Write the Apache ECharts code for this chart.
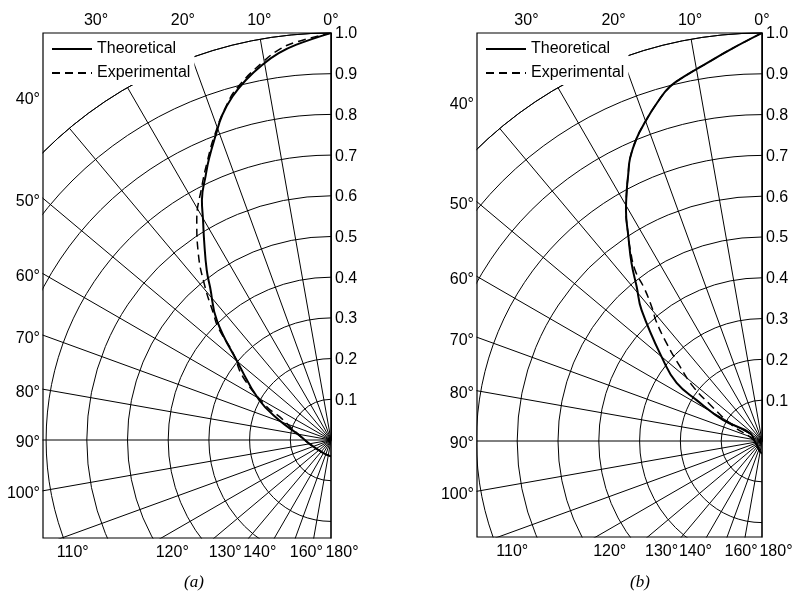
<!DOCTYPE html>
<html>
<head>
<meta charset="utf-8">
<script src="https://cdn.jsdelivr.net/npm/echarts@6/dist/echarts.min.js"></script>
<style>
  html, body { margin: 0; padding: 0; background: #fff; }
  #main { width: 800px; height: 592px; }
</style>
</head>
<body>
<div id="main"></div>
<script>
// angle in degrees from the 0° axis, radius relative to 1.0
var angleTheoA = [0, 5, 7.7, 10.4, 13.3, 16, 18.5, 20.7, 23.4, 25.3, 28.3, 30.2, 32.4, 36.2, 38.4, 43.6, 50.4, 60.9, 69, 81, 101, 148, 180];
var radTheoA = [1.0, 0.975, 0.959, 0.937, 0.909, 0.878, 0.842, 0.801, 0.754, 0.720, 0.669, 0.625, 0.582, 0.517, 0.478, 0.407, 0.296, 0.202, 0.137, 0.080, 0.053, 0.037, 0.04];

var angleExpA = [0, 4.9, 7.4, 10.2, 14.7, 17.3, 21, 24, 27, 31.4, 35.4, 39.4, 42.8, 45, 48.4, 54.4, 62.7, 65.7, 81, 101, 148, 180];
var radExpA = [1.0, 0.982, 0.969, 0.944, 0.898, 0.862, 0.800, 0.748, 0.699, 0.633, 0.563, 0.488, 0.426, 0.393, 0.322, 0.266, 0.177, 0.138, 0.08, 0.053, 0.037, 0.04];

var angleTheoB = [0, 4.7, 8.3, 11.6, 14.6, 17.3, 20.1, 22.5, 25, 26.7, 28.3, 30.5, 33.2, 36.3, 39.1, 42.6, 50.7, 55.8, 58, 61.7, 56.3, 90, 170, 180];
var radTheoB = [1.0, 0.962, 0.936, 0.916, 0.897, 0.867, 0.833, 0.803, 0.765, 0.730, 0.699, 0.657, 0.598, 0.540, 0.487, 0.436, 0.313, 0.253, 0.189, 0.109, 0.035, 0.018, 0.027, 0.03];

var angleExpB = [0, 4.7, 8.3, 11.6, 14.6, 17.3, 20.1, 22.5, 25, 26.7, 28.3, 30.5, 33.2, 34.2, 36.6, 37.7, 39.8, 41.3, 44.3, 47.8, 51.7, 55, 62, 90, 170, 180];
var radExpB = [1.0, 0.962, 0.936, 0.916, 0.897, 0.867, 0.833, 0.803, 0.765, 0.730, 0.699, 0.657, 0.598, 0.577, 0.522, 0.47, 0.418, 0.395, 0.335, 0.271, 0.215, 0.155, 0.085, 0.018, 0.027, 0.03];

var radiusTicks = [1.0, 0.9, 0.8, 0.7, 0.6, 0.5, 0.4, 0.3, 0.2, 0.1];
var topAngles = [0, 10, 20, 30];
var sideAngles = [40, 50, 60, 70, 80, 90, 100];
var bottomAngles = [110, 120, 130, 140, 160, 180];
var seriesNames = ["Theoretical", "Experimental"];
var captions = ["(a)", "(b)"];

// panel layout: polar centre/radius and the frame that clips the grid
var panels = [
  { center: [331, 440], radius: 407, left: 43, bottom: 538, nudge: 11, caption: [194, 583] },
  { center: [762, 441], radius: 408, left: 477, bottom: 537, nudge: 14, caption: [640, 583] },
];

var ink = "#000";
var font = '"Liberation Sans", Arial, sans-serif';

function pairs(rads, angles) {
  return rads.map(function (r, i) {
    return [r, angles[i]];
  });
}

var chartDom = document.getElementById("main");
var myChart = echarts.init(chartDom);
var option;

option = {
  backgroundColor: "#fff",
  animation: false,
  polar: panels.map(function (p) {
    return { center: p.center, radius: p.radius };
  }),
  angleAxis: panels.map(function (p, i) {
    return {
      polarIndex: i,
      type: "value",
      min: 0,
      max: 180,
      interval: 10,
      startAngle: 90,
      endAngle: 270,
      clockwise: false,
      axisLine: { show: true, lineStyle: { color: ink, width: 1 } },
      axisTick: { show: false },
      axisLabel: { show: false },
      splitLine: { show: true, lineStyle: { color: ink, width: 1 } },
    };
  }),
  radiusAxis: panels.map(function (p, i) {
    return {
      polarIndex: i,
      type: "value",
      min: 0,
      max: 1,
      interval: 0.1,
      axisLine: { show: true, lineStyle: { color: ink, width: 1 } },
      axisTick: { show: false },
      axisLabel: { show: false },
      splitLine: { show: true, lineStyle: { color: ink, width: 1 } },
    };
  }),
  legend: panels.map(function (p) {
    return {
      left: p.left,
      top: 33,
      orient: "vertical",
      padding: [8, 4, 4, 8],
      itemWidth: 40,
      itemHeight: 14,
      itemGap: 8,
      backgroundColor: "#fff",
      selectedMode: false,
      itemStyle: { opacity: 0 },
      data: seriesNames,
      textStyle: { fontSize: 16, color: ink, fontFamily: font },
    };
  }),
  series: [
    [radTheoA, angleTheoA, 0, "solid"],
    [radExpA, angleExpA, 0, "dashed"],
    [radTheoB, angleTheoB, 1, "solid"],
    [radExpB, angleExpB, 1, "dashed"],
  ].map(function (s) {
    var dashed = s[3] === "dashed";
    return {
      name: dashed ? seriesNames[1] : seriesNames[0],
      type: "line",
      coordinateSystem: "polar",
      polarIndex: s[2],
      data: pairs(s[0], s[1]),
      symbol: "none",
      smooth: 0.45,
      itemStyle: { color: ink },
      lineStyle: {
        color: ink,
        width: dashed ? 1.5 : 2,
        type: dashed ? [8, 5] : "solid",
      },
      z: dashed ? 3 : 2,
    };
  }),
};
option && myChart.setOption(option);

// frame, masks and tick labels, placed with the polar's own mapping
function px(i, r, a) {
  return myChart.convertToPixel({ polarIndex: i }, [r, a]);
}

var graphics = [];
var labelStyle = { fontSize: 16, fontFamily: font, fill: ink };

function text(str, x, y, align) {
  graphics.push({
    type: "text",
    x: x,
    y: y,
    z: 70,
    style: Object.assign({ text: str, align: align, verticalAlign: "middle" }, labelStyle),
  });
}

var frames = panels.map(function (p, i) {
  var c = px(i, 0, 0);
  var top = px(i, 1, 0)[1];
  return { L: p.left, T: top, R: c[0], B: p.bottom, c: c };
});

// white masks outside each frame
graphics.push({ type: "rect", z: 50, shape: { x: 0, y: 0, width: frames[0].L - 0.5, height: 592 }, style: { fill: "#fff" } });
graphics.push({ type: "rect", z: 50, shape: { x: frames[0].R + 1, y: 0, width: frames[1].L - frames[0].R - 1.5, height: 592 }, style: { fill: "#fff" } });
frames.forEach(function (f) {
  graphics.push({ type: "rect", z: 50, shape: { x: f.L - 2, y: f.B + 0.5, width: f.R - f.L + 6, height: 100 }, style: { fill: "#fff" } });
  graphics.push({ type: "rect", z: 60, shape: { x: f.L, y: f.T, width: f.R - f.L, height: f.B - f.T }, style: { fill: "none", stroke: ink, lineWidth: 1.2 } });
});

frames.forEach(function (f, i) {
  var c = f.c;
  function dir(a) {
    var e = px(i, 1, a);
    return [e[0] - c[0], e[1] - c[1]];
  }
  topAngles.forEach(function (a) {
    var d = dir(a);
    var t = (f.T - c[1]) / d[1];
    text(a + "°", c[0] + t * d[0], f.T - 12, "center");
  });
  sideAngles.forEach(function (a) {
    var d = dir(a);
    var t = (f.L - c[0]) / d[0];
    text(a + "°", f.L - 3, c[1] + t * d[1] + 3, "right");
  });
  bottomAngles.forEach(function (a) {
    var d = dir(a);
    var t = (f.B - c[1]) / d[1];
    text(a + "°", c[0] + t * d[0] + panels[i].nudge, f.B + 15, "center");
  });
  radiusTicks.forEach(function (r) {
    var p = px(i, r, 0);
    text(r.toFixed(1), f.R + 4, p[1] + 1, "left");
  });
  graphics.push({
    type: "text",
    x: panels[i].caption[0],
    y: panels[i].caption[1],
    z: 70,
    style: {
      text: captions[i],
      align: "center",
      verticalAlign: "middle",
      fontSize: 17,
      fontStyle: "italic",
      fontFamily: '"Liberation Serif", serif',
      fill: ink,
    },
  });
});

myChart.setOption({ graphic: { elements: graphics } });
</script>
</body>
</html>
